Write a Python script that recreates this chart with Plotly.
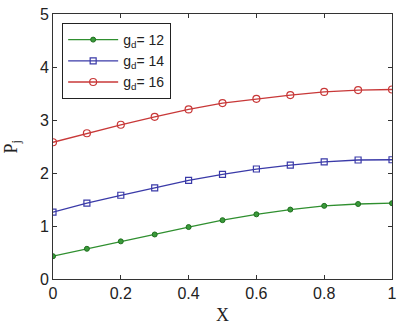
import plotly.graph_objects as go

x_vals = [0, 0.1, 0.2, 0.3, 0.4, 0.5, 0.6, 0.7, 0.8, 0.9, 1.0]
p_gd12 = [0.43, 0.57, 0.71, 0.84, 0.98, 1.11, 1.22, 1.31, 1.38, 1.415, 1.43]
p_gd14 = [1.26, 1.43, 1.58, 1.72, 1.86, 1.975, 2.075, 2.15, 2.21, 2.245, 2.25]
p_gd16 = [2.58, 2.75, 2.91, 3.06, 3.2, 3.32, 3.40, 3.47, 3.53, 3.565, 3.575]
series_names = ["g<sub>d</sub>= 12", "g<sub>d</sub>= 14", "g<sub>d</sub>= 16"]
x_ticks = [0, 0.2, 0.4, 0.6, 0.8, 1]
y_ticks = [0, 1, 2, 3, 4, 5]
x_title = "X"
y_title = "P<sub>j</sub>"

fig = go.Figure()
fig.add_trace(go.Scatter(
    x=x_vals, y=p_gd12, name=series_names[0], mode="lines+markers",
    line=dict(color="#2f8f2f", width=1.3),
    marker=dict(symbol="circle", size=5, color="#3a9a3a",
                line=dict(color="#1f6f1f", width=1)),
))
fig.add_trace(go.Scatter(
    x=x_vals, y=p_gd14, name=series_names[1], mode="lines+markers",
    line=dict(color="#3a3aa8", width=1.3),
    marker=dict(symbol="square-open", size=6, color="#3a3aa8",
                line=dict(width=1.2)),
))
fig.add_trace(go.Scatter(
    x=x_vals, y=p_gd16, name=series_names[2], mode="lines+markers",
    line=dict(color="#c83838", width=1.3),
    marker=dict(symbol="circle-open", size=7, color="#c83838",
                line=dict(width=1.2)),
))

axis_common = dict(
    showgrid=False, zeroline=False, showline=True, linecolor="#333",
    linewidth=1, mirror="ticks", ticks="inside", ticklen=4, automargin=False,
    tickcolor="#333", tickfont=dict(family="Liberation Sans", size=16, color="#222"),
)
fig.update_xaxes(range=[0, 1], tickvals=x_ticks, ticktext=[str(t) for t in x_ticks],
                 **axis_common)
fig.update_yaxes(range=[0, 5], tickvals=y_ticks, **axis_common)

title_font = dict(family="Liberation Serif", size=18, color="#222")
fig.add_annotation(text=x_title, xref="paper", yref="paper", x=0.5, y=0,
                   yshift=-36, yanchor="middle", showarrow=False, font=title_font)
fig.add_annotation(text=y_title, xref="paper", yref="paper", x=0, y=0.5,
                   xshift=-41, xanchor="center", textangle=-90, showarrow=False,
                   font=title_font)

fig.update_layout(
    width=410, height=324,
    margin=dict(l=53, r=18, t=14, b=45),
    plot_bgcolor="white", paper_bgcolor="white",
    legend=dict(x=0.027, y=0.966, xanchor="left", yanchor="top",
                bordercolor="#222", borderwidth=1, bgcolor="white",
                font=dict(family="Liberation Sans", size=14, color="#222"),
                tracegroupgap=0, itemwidth=50),
    showlegend=True,
)

fig.write_html("out.html")
